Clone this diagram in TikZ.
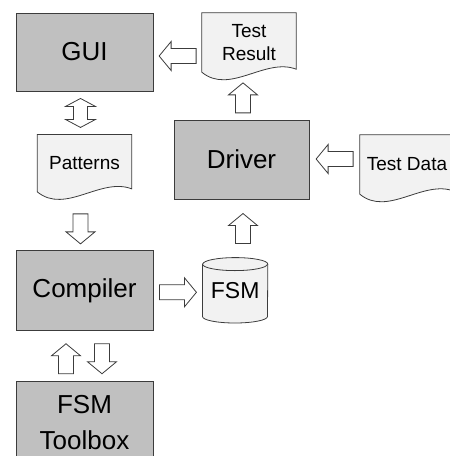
\documentclass[tikz,border=0pt]{standalone}
\usepackage{fontspec}
\setmainfont{Liberation Sans}
\usepackage{xcolor}
\usepackage{tikz}
\usetikzlibrary{positioning, calc, backgrounds}

\definecolor{boxgray}{HTML}{C0C0C0}
\definecolor{docfill}{HTML}{F2F2F2}
\definecolor{edgegray}{HTML}{3C3C3C}

\begin{document}
\begin{tikzpicture}[
			x=1pt, y=1pt,
			node distance = 40pt,
			mainbox/.style = {rectangle, draw=edgegray, fill=boxgray, line width=0.9pt,
					minimum width=137pt, minimum height=79pt, inner sep=0pt,
					align=center, font=\fontsize{26}{36}\selectfont},
			docbox/.style = {rectangle, minimum width=94pt, minimum height=59pt,
					inner sep=0pt, align=center, font=\fontsize{19}{23}\selectfont},
			docline/.style = {draw=edgegray, fill=docfill, line width=0.8pt},
			arrowline/.style = {draw=edgegray, fill=white, line width=0.8pt},
			pics/hollow arrow/.style = {code={
						\draw[arrowline] (-#1,-7.5) -- (#1-12,-7.5) -- (#1-12,-14.5) -- (#1,0)
						-- (#1-12,14.5) -- (#1-12,7.5) -- (-#1,7.5) -- cycle;}},
			pics/double hollow arrow/.style = {code={
						\draw[arrowline] (-#1,0) -- (-#1+8,-15) -- (-#1+8,-7) -- (#1-8,-7)
						-- (#1-8,-15) -- (#1,0) -- (#1-8,15) -- (#1-8,7) -- (-#1+8,7)
						-- (-#1+8,15) -- cycle;}},
		]
		\useasboundingbox (0,0) rectangle (450,-456);

		% Left column
		\node [mainbox, minimum height=78pt] (gui) at (84.5,-52) {GUI};
		\node [docbox, minimum height=57pt, below=43pt of gui] (patterns) {Patterns};
		\node [mainbox, minimum height=80pt, below=58pt of patterns] (compiler) {Compiler};
		\node [mainbox, minimum height=82pt, below=50pt of compiler] (toolbox) {FSM\\Toolbox};

		% Right column
		\node [mainbox, minimum width=135pt] (driver) at (241.5,-159.5) {Driver};
		\node [docbox] (testresult) at (249,-42.5) {Test\\Result};
		\node [docbox] (testdata) at (407,-164.5) {Test Data};
		\node [docbox, minimum width=65pt, minimum height=65pt, font=\fontsize{23}{27}\selectfont,
			right=49pt of compiler] (fsm) {\raisebox{-4pt}{FSM}};

		% Document and storage outlines
		\begin{scope}[on background layer]
			\foreach \d in {testresult,patterns,testdata}
			\draw [docline] (\d.north west) -- (\d.north east) -- ([yshift=3]\d.south east)
			.. controls ([xshift=-31,yshift=15]\d.south east) and ([xshift=28,yshift=-23]\d.south west)
			.. (\d.south west) -- cycle;
			\draw [docline] ([yshift=-6.5]fsm.north west) -- ([yshift=6.5]fsm.south west)
			arc [start angle=180, end angle=360, x radius=32.5, y radius=6.5]
			-- ([yshift=-6.5]fsm.north east)
			arc [start angle=0, end angle=180, x radius=32.5, y radius=6.5] -- cycle;
			\draw [docline, fill=none] ([yshift=-6.5]fsm.north west)
			arc [start angle=180, end angle=360, x radius=32.5, y radius=6.5];
		\end{scope}

		% Block arrows
		\pic [rotate=180] at ($(gui.east)!.5!(gui.east -| testresult.west)+(0,-4)$) {hollow arrow=18.5};
		\pic [rotate=90] at ($(gui.south)!.5!(patterns.north)+(-4,0)$) {double hollow arrow=14.5};
		\pic [rotate=-90] at ($(patterns.south)!.5!(compiler.north)+(-4,-8)$) {hollow arrow=15};
		\pic at ($(compiler.east)!.5!(fsm.west)+(0,-2)$) {hollow arrow=18.5};
		\pic [rotate=90] at ($(driver.south)!.5!(driver.south |- fsm.north)+(1.5,0)$) {hollow arrow=15};
		\pic [rotate=90] at ($(driver.north)!.5!(driver.north |- testresult.south)+(1.5,-2)$) {hollow arrow=15};
		\pic [rotate=180] at ($(driver.east)!.5!(testdata.west)+(0,3)$) {hollow arrow=18.5};
		\pic [rotate=90] at ($(compiler.south)!.5!(toolbox.north)+(-18.5,-3)$) {hollow arrow=15};
		\pic [rotate=-90] at ($(compiler.south)!.5!(toolbox.north)+(17.5,-3)$) {hollow arrow=15};
	\end{tikzpicture}
\end{document}
